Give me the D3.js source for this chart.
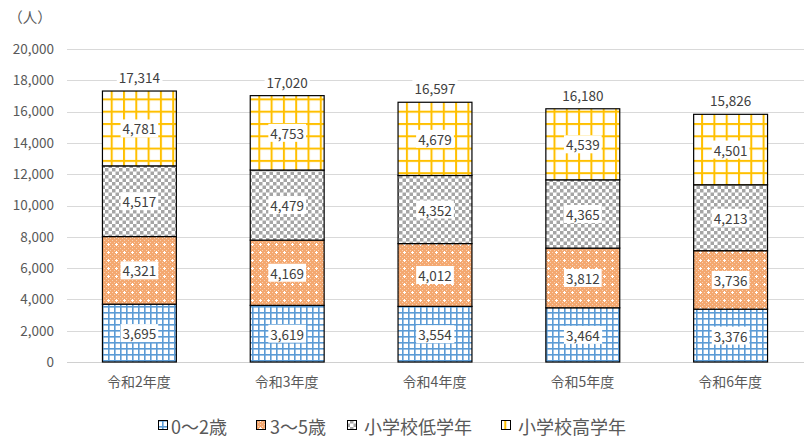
<!DOCTYPE html>
<html><head><meta charset="utf-8">
<script src="https://cdn.jsdelivr.net/npm/d3@7"></script>
<style>
body{margin:0;background:#fff;}
text{font-family:"Noto Sans CJK JP","Noto Sans",sans-serif;}
</style></head>
<body><svg id="c" width="806" height="437"></svg>
<script>
const categories = ["令和2年度","令和3年度","令和4年度","令和5年度","令和6年度"];
const seriesNames = ["0～2歳","3～5歳","小学校低学年","小学校高学年"];
const age0to2 = [3695,3619,3554,3464,3376];
const age3to5 = [4321,4169,4012,3812,3736];
const lowerGrades = [4517,4479,4352,4365,4213];
const upperGrades = [4781,4753,4679,4539,4501];
const totals = [17314,17020,16597,16180,15826];
const yTicks = [0,2000,4000,6000,8000,10000,12000,14000,16000,18000,20000];

const seriesValues = [age0to2, age3to5, lowerGrades, upperGrades];
const svg = d3.select("#c");
const defs = svg.append("defs");

function pat(id, size, draw){
  const p = defs.append("pattern").attr("id",id).attr("patternUnits","userSpaceOnUse")
    .attr("width",size).attr("height",size);
  draw(p, size);
}
pat("pBlue", 6, (p,s)=>{
  p.append("rect").attr("width",s).attr("height",s).attr("fill","#fff");
  p.append("rect").attr("x",0).attr("y",0).attr("width",s).attr("height",1.6).attr("fill","#5B9BD5");
  p.append("rect").attr("x",0).attr("y",0).attr("width",1.6).attr("height",s).attr("fill","#5B9BD5");
});
pat("pOrange", 8, (p,s)=>{
  p.append("rect").attr("width",s).attr("height",s).attr("fill","#F4A870");
  for(let i=0;i<4;i++)for(let j=0;j<4;j++){ if((i+j)%2===0) p.append("rect").attr("x",i*2).attr("y",j*2).attr("width",1).attr("height",1).attr("fill","#F9D2B4");}
  p.append("rect").attr("x",3).attr("y",4).attr("width",3).attr("height",1).attr("fill","#fff");
  p.append("rect").attr("x",4).attr("y",3).attr("width",1).attr("height",3).attr("fill","#fff");
});
pat("pGray", 7, (p,s)=>{
  p.append("rect").attr("width",s).attr("height",s).attr("fill","#fff");
  p.append("rect").attr("x",0).attr("y",0).attr("width",3.5).attr("height",3.5).attr("fill","#A5A5A5");
  p.append("rect").attr("x",3.5).attr("y",3.5).attr("width",3.5).attr("height",3.5).attr("fill","#A5A5A5");
});
pat("pYellow", 12.3, (p,s)=>{
  p.append("rect").attr("width",s).attr("height",s).attr("fill","#fff");
  p.append("rect").attr("x",0).attr("y",0).attr("width",s).attr("height",2).attr("fill","#FFC000");
  p.append("rect").attr("x",0).attr("y",0).attr("width",2).attr("height",s).attr("fill","#FFC000");
});
const fills = ["url(#pBlue)","url(#pOrange)","url(#pGray)","url(#pYellow)"];

const x = d3.scaleBand().domain(categories).range([65,804]).paddingInner(0.5).paddingOuter(0.25);
const y = d3.scaleLinear().domain([0,20000]).range([362,49]);

svg.append("g").selectAll("line").data(yTicks).join("line")
  .attr("x1",67).attr("x2",804).attr("y1",d=>Math.round(y(d))+0.5).attr("y2",d=>Math.round(y(d))+0.5)
  .attr("stroke",d=>d===0?"#D0D0D0":"#D9D9D9").attr("stroke-width",1);

const yAxis = d3.axisLeft(y).tickValues(yTicks).tickFormat(d3.format(",")).tickSize(0).tickPadding(0);
const ga = svg.append("g").attr("transform","translate(54,0)").call(yAxis);
ga.select(".domain").remove();
ga.selectAll("text").attr("font-size",13.5).attr("fill","#595959").attr("font-family","'Noto Sans CJK JP',sans-serif");

svg.append("text").attr("x",30).attr("y",23).attr("text-anchor","middle").attr("font-size",14.5).attr("fill","#595959").text("（人）");

const data = categories.map((c,i)=>({cat:c, v:seriesValues.map(s=>s[i])}));
const stackGen = d3.stack().keys([0,1,2,3]).value((d,k)=>d.v[k]);
const stacked = stackGen(data);
const bw = x.bandwidth();

stacked.forEach((layer,k)=>{
  svg.append("g").selectAll("rect").data(layer).join("rect")
    .attr("x",d=>x(d.data.cat)+0.5).attr("y",d=>y(d[1])).attr("width",bw).attr("height",d=>y(d[0])-y(d[1]))
    .attr("fill",fills[k]).attr("stroke","#000").attr("stroke-width",1.2);
});

function labelBox(g, cx, cy, txt){
  const t = g.append("text").attr("x",cx).attr("y",cy).attr("text-anchor","middle").attr("dominant-baseline","central")
    .attr("font-size",13.5).attr("fill","#404040").text(txt);
  const b = t.node().getBBox();
  g.insert("rect","text:last-child").attr("x",b.x-2).attr("y",b.y+1).attr("width",b.width+4).attr("height",b.height-2).attr("fill","#fff");
  t.raise();
}
const lg = svg.append("g");
stacked.forEach((layer)=>{
  layer.forEach(d=>{
    labelBox(lg, x(d.data.cat)+bw/2+0.5, (y(d[0])+y(d[1]))/2, d3.format(",")(d[1]-d[0]));
  });
});
categories.forEach((c,i)=>{
  labelBox(lg, x(c)+bw/2+0.5, y(totals[i])-14, d3.format(",")(totals[i]));
});

svg.append("g").selectAll("text").data(categories).join("text")
  .attr("x",d=>x(d)+bw/2).attr("y",387).attr("text-anchor","middle").attr("font-size",14).attr("fill","#595959").text(d=>d);

const legIconX = [158,256,347,501];
const legTextX = [171,270,364,518];
const leg = svg.append("g");
seriesNames.forEach((n,k)=>{
  leg.append("rect").attr("x",legIconX[k]+0.5).attr("y",420.5).attr("width",9).attr("height",9).attr("fill",fills[k]).attr("stroke","#000").attr("stroke-width",1);
  leg.append("text").attr("x",legTextX[k]).attr("y",425.5).attr("dominant-baseline","central").attr("font-size",18).attr("fill","#595959").text(n);
});
</script></body></html>
